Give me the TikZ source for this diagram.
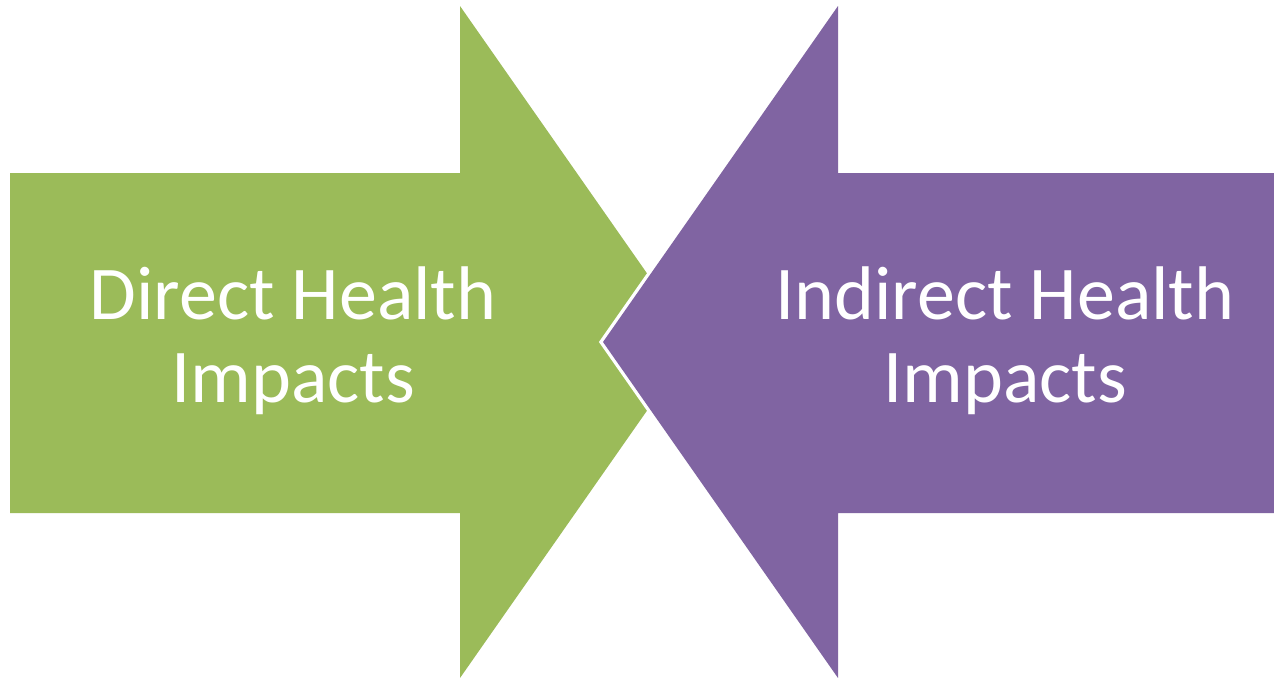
\documentclass[tikz,border=0pt]{standalone}
\usepackage{fontspec}
\setmainfont{Carlito}
\definecolor{dgreen}{HTML}{9BBB59}
\definecolor{dpurple}{HTML}{8064A2}
\begin{document}
\begin{tikzpicture}[x=0.75pt,y=-0.75pt,
  lbl/.style={text=white,align=center,font=\fontsize{57}{62}\selectfont,inner sep=0pt}]
\useasboundingbox (0,0) rectangle (1274,678);
\fill[dgreen] (10,173) -- (460,173) -- (460,6) -- (695,342) -- (460,678) -- (460,513) -- (10,513) -- cycle;
\path[draw=white,line width=5pt,line join=miter] (1280,173) -- (838,173) -- (838,6) -- (603,342) -- (838,678) -- (838,513) -- (1280,513) -- cycle;
\fill[dpurple] (1280,173) -- (838,173) -- (838,6) -- (603,342) -- (838,678) -- (838,513) -- (1280,513) -- cycle;
\node[lbl] (direct) at (293,341) {Direct Health\\Impacts};
\node[lbl] (indirect) at (1005,341) {Indirect Health\\Impacts};
\end{tikzpicture}
\end{document}
